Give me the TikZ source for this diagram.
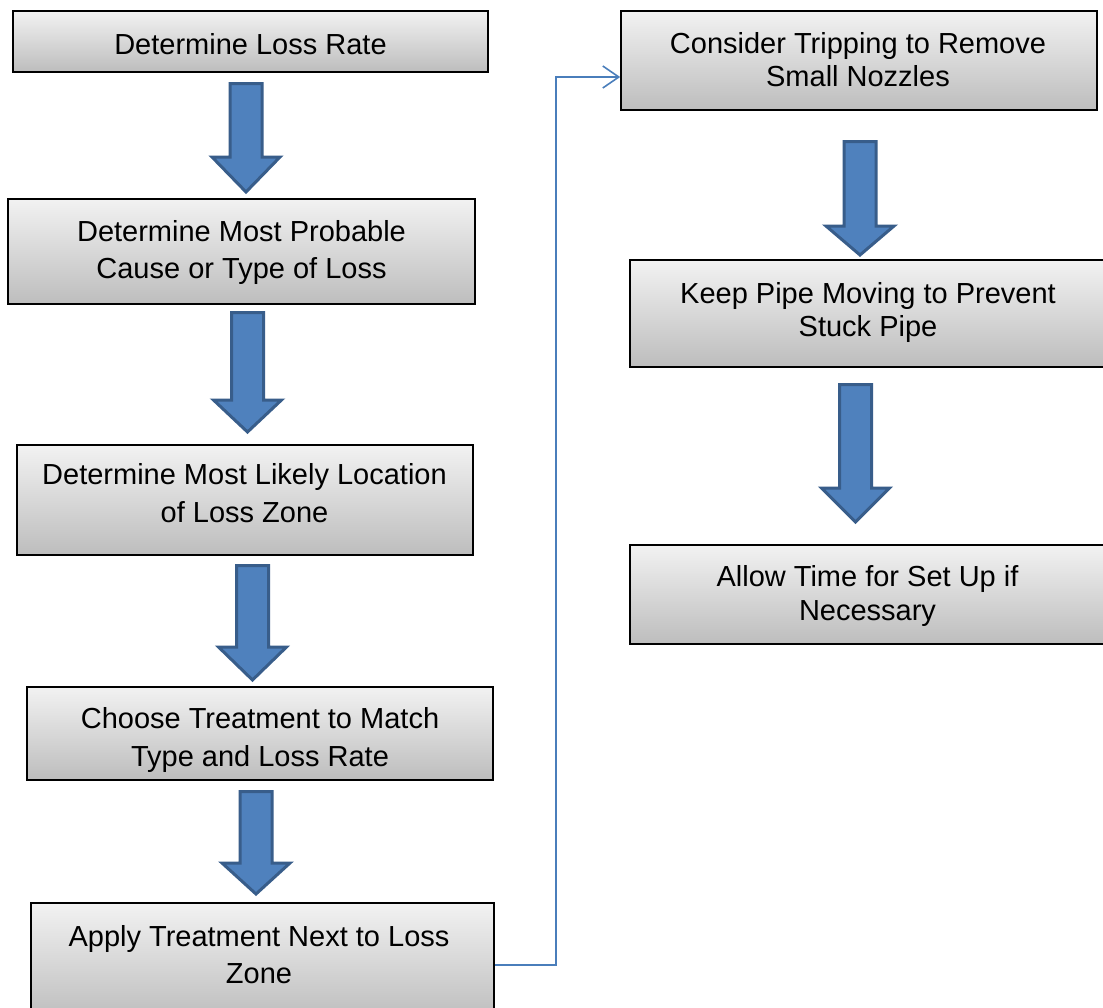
\documentclass[tikz,border=0pt]{standalone}
\usepackage{fontspec}
\setmainfont{Liberation Sans}
\usetikzlibrary{arrows.meta}
\definecolor{arrfill}{HTML}{4F81BD}
\definecolor{arrline}{HTML}{385D8A}
\definecolor{boxtop}{HTML}{F2F2F2}
\definecolor{boxbot}{HTML}{BDBDBD}
\definecolor{connblue}{HTML}{4A7EBB}
% block arrow: centre x, top y, shoulder y, tip y
\newcommand\blkarrow[4]{%
  \draw[blockarrow] (#1-16,#2+1.5) -- (#1+16,#2+1.5) -- (#1+16,#3) -- (#1+34,#3)
    -- (#1,#4-3) -- (#1-34,#3) -- (#1-16,#3) -- cycle;}
\begin{document}
\begin{tikzpicture}[x=1pt,y=-1pt,
  box/.style={draw=black,line width=1.6pt,top color=boxtop,bottom color=boxbot,
    inner sep=0pt,rectangle},
  txt/.style={align=center,inner sep=0pt,anchor=north,
    font=\fontsize{29}{#1}\selectfont},
  blockarrow/.style={fill=arrfill,draw=arrline,line width=3pt,line join=miter},
  conn/.style={draw=connblue,line width=1.6pt,
    -{Straight Barb[length=16pt,width=22pt,line width=1.6pt]}}]
\useasboundingbox (0,0) rectangle (1103,1007);
\clip (0,0) rectangle (1103,1007);
\fill[white] (0,0) rectangle (1103,1007);

% left column boxes
\node[box,minimum width=475pt,minimum height=61pt] (b1) at (250.5,41.5) {};
\node[txt=37] (t1) at (250.5,33) {Determine Loss Rate};

\node[box,minimum width=467pt,minimum height=105pt] (b2) at (241.5,251.5) {};
\node[txt=37] (t2) at (241.5,220) {Determine Most Probable\\Cause or Type of Loss};

\node[box,minimum width=456pt,minimum height=110pt] (b3) at (245,500) {};
\node[txt=38] (t3) at (244.5,463) {Determine Most Likely Location\\of Loss Zone};

\node[box,minimum width=466pt,minimum height=93pt] (b4) at (260,733.5) {};
\node[txt=38] (t4) at (260,707) {Choose Treatment to Match\\Type and Loss Rate};

\node[box,minimum width=463pt,minimum height=117pt] (b5) at (262.5,961.5) {};
\node[txt=37] (t5) at (259,925) {Apply Treatment Next to Loss\\Zone};

% right column boxes
\node[box,minimum width=476pt,minimum height=99pt] (b6) at (859,60.5) {};
\node[txt=33] (t6) at (858,32) {Consider Tripping to Remove\\Small Nozzles};

\node[box,minimum width=476pt,minimum height=107pt] (b7) at (868,313.5) {};
\node[txt=33] (t7) at (868,282) {Keep Pipe Moving to Prevent\\Stuck Pipe};

\node[box,minimum width=476pt,minimum height=99pt] (b8) at (868,594.5) {};
\node[txt=34] (t8) at (867.5,565) {Allow Time for Set Up if\\Necessary};

% block arrows
\blkarrow{246}{82}{157}{195}
\blkarrow{247.5}{311}{400}{435}
\blkarrow{252.5}{564}{647}{683}
\blkarrow{256}{790}{863}{897}
\blkarrow{860}{140}{226}{258}
\blkarrow{855.5}{383}{488}{525}

% connector
\coordinate (c1) at ([yshift=-3.5pt]b5.east);
\coordinate (c2) at ([yshift=-16.5pt]b6.west);
\draw[conn] (c1) -- (556,965) -- (556,77) -- (c2);
\end{tikzpicture}
\end{document}
